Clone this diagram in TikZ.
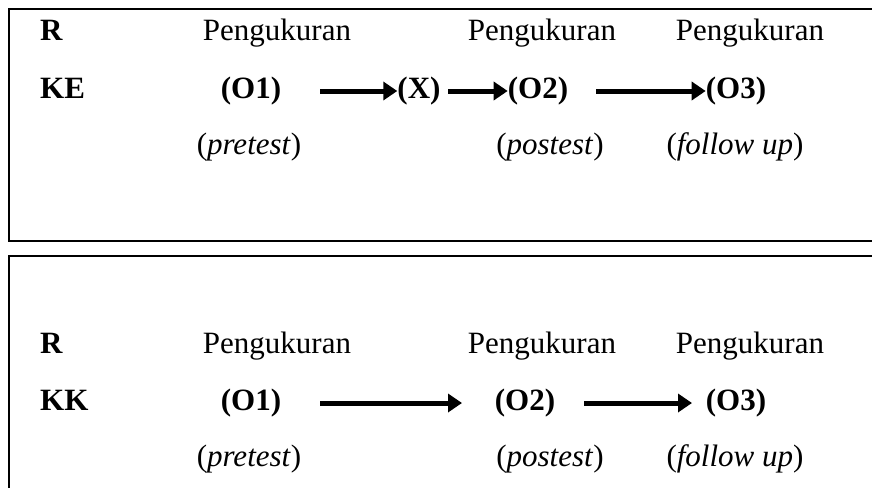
\documentclass[tikz,border=0pt]{standalone}
\usepackage{fontspec}
\setmainfont{Liberation Serif}
\usetikzlibrary{arrows.meta}
\begin{document}
\begin{tikzpicture}[x=1pt,y=-1pt,
  txt/.style={inner sep=0pt,anchor=base,font=\fontsize{31}{36}\selectfont},
  lbl/.style={txt,anchor=base west},
  frame/.style={line width=2.8pt},
  arr/.style={line width=5pt,-{Triangle[length=14pt,width=18pt]}}]
\useasboundingbox (0,0) rectangle (872,487);
\clip (0,0) rectangle (872,487);
% top box
\draw[frame] (9,9) rectangle (900,241);
\node[lbl] (r1) at (40,41) {\textbf{R}};
\node[txt] (p11) at (277,41) {Pengukuran};
\node[txt] (p12) at (542,41) {Pengukuran};
\node[txt] (p13) at (750,41) {Pengukuran};
\node[lbl] (ke) at (40,98) {\textbf{KE}};
\node[txt] (o11) at (251,98) {\textbf{(O1)}};
\node[txt] (x1) at (419,98) {\textbf{(X)}};
\node[txt] (o12) at (538,98) {\textbf{(O2)}};
\node[txt] (o13) at (736,98) {\textbf{(O3)}};
\node[txt] (t11) at (249,154) {(\textit{pretest})};
\node[txt] (t12) at (550,154) {(\textit{postest})};
\node[txt] (t13) at (735,154) {(\textit{follow up})};
\coordinate (a1s) at (320,91);
\draw[arr] (a1s) -- (x1.west |- a1s);
\coordinate (a2s) at (448,91);
\draw[arr] (a2s) -- (o12.west |- a2s);
\coordinate (a3s) at (596,91);
\draw[arr] (a3s) -- (o13.west |- a3s);
% bottom box
\draw[frame] (9,256) rectangle (900,520);
\node[lbl] (r2) at (40,353) {\textbf{R}};
\node[txt] (p21) at (277,353) {Pengukuran};
\node[txt] (p22) at (542,353) {Pengukuran};
\node[txt] (p23) at (750,353) {Pengukuran};
\node[lbl] (kk) at (40,410) {\textbf{KK}};
\node[txt] (o21) at (251,410) {\textbf{(O1)}};
\node[txt] (o22) at (525,410) {\textbf{(O2)}};
\node[txt] (o23) at (736,410) {\textbf{(O3)}};
\node[txt] (t21) at (249,466) {(\textit{pretest})};
\node[txt] (t22) at (550,466) {(\textit{postest})};
\node[txt] (t23) at (735,466) {(\textit{follow up})};
\coordinate (b1s) at (320,403);
\coordinate (b1e) at (462,403);
\draw[arr] (b1s) -- (b1e);
\coordinate (b2s) at (584,403);
\coordinate (b2e) at (692,403);
\draw[arr] (b2s) -- (b2e);
\end{tikzpicture}
\end{document}
